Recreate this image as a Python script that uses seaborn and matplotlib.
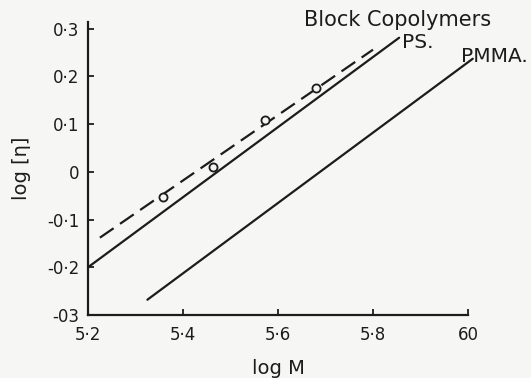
import matplotlib
matplotlib.use("Agg")
import matplotlib.pyplot as plt
import seaborn as sns

# Intrinsic viscosity vs molecular weight (log-log)
ps_logM = [5.2, 5.855]
ps_logeta = [-0.200, 0.281]

pmma_logM = [5.325, 6.010]
pmma_logeta = [-0.268, 0.237]

block_line_logM = [5.225, 5.800]
block_line_logeta = [-0.138, 0.256]

block_pts_logM = [5.358, 5.463, 5.573, 5.680]
block_pts_logeta = [-0.052, 0.010, 0.109, 0.176]

x_ticks = [5.2, 5.4, 5.6, 5.8, 6.0]
x_ticklabels = ["5·2", "5·4", "5·6", "5·8", "60"]
y_ticks = [0.3, 0.2, 0.1, 0.0, -0.1, -0.2, -0.3]
y_ticklabels = ["0·3", "0·2", "0·1", "0", "-0·1", "-0·2", "-03"]

sns.set_style("ticks")
plt.rcParams["font.family"] = ["DejaVu Sans"]

bg = "#f6f6f4"
ink = "#1c1c1c"

fig = plt.figure(figsize=(5.31, 3.78), dpi=100, facecolor=bg)
ax = fig.add_axes([88 / 531, 1 - 315 / 378, (468 - 88) / 531, (315 - 22) / 378])
ax.set_facecolor(bg)

sns.lineplot(x=ps_logM, y=ps_logeta, ax=ax, color=ink, lw=1.6, clip_on=False)
sns.lineplot(x=pmma_logM, y=pmma_logeta, ax=ax, color=ink, lw=1.6, clip_on=False)
sns.lineplot(x=block_line_logM, y=block_line_logeta, ax=ax, color=ink, lw=1.6,
             clip_on=False)
ax.lines[-1].set_dashes((7.5, 3.5))
sns.scatterplot(x=block_pts_logM, y=block_pts_logeta, ax=ax, marker="o", s=34,
                facecolor=bg, edgecolor=ink, linewidth=1.3, zorder=5, clip_on=False)

ax.set_xlim(5.2, 6.0)
ax.set_ylim(-0.3, 0.314)
sns.despine(ax=ax)
for side in ("left", "bottom"):
    ax.spines[side].set_linewidth(1.6)
    ax.spines[side].set_color(ink)

ax.set_xticks(x_ticks)
ax.set_xticklabels(x_ticklabels)
ax.set_yticks(y_ticks)
ax.set_yticklabels(y_ticklabels)
ax.tick_params(direction="in", length=4, width=1.3, color=ink, labelcolor=ink,
               labelsize=12)
ax.tick_params(axis="x", pad=8)
ax.tick_params(axis="y", pad=6)

ax.set_xlabel("log M", fontsize=14, color=ink, labelpad=11)
ax.set_ylabel("log [η]", fontsize=14, color=ink, labelpad=12)

ax.text(5.655, 0.318, "Block Copolymers", fontsize=15, color=ink,
        ha="left", va="center", clip_on=False)
ax.text(5.862, 0.270, "PS.", fontsize=14.5, color=ink, ha="left", va="center", clip_on=False)
ax.text(5.985, 0.242, "PMMA.", fontsize=14.5, color=ink, ha="left", va="center", clip_on=False)

fig.savefig("out.png", dpi=100, facecolor=bg)
